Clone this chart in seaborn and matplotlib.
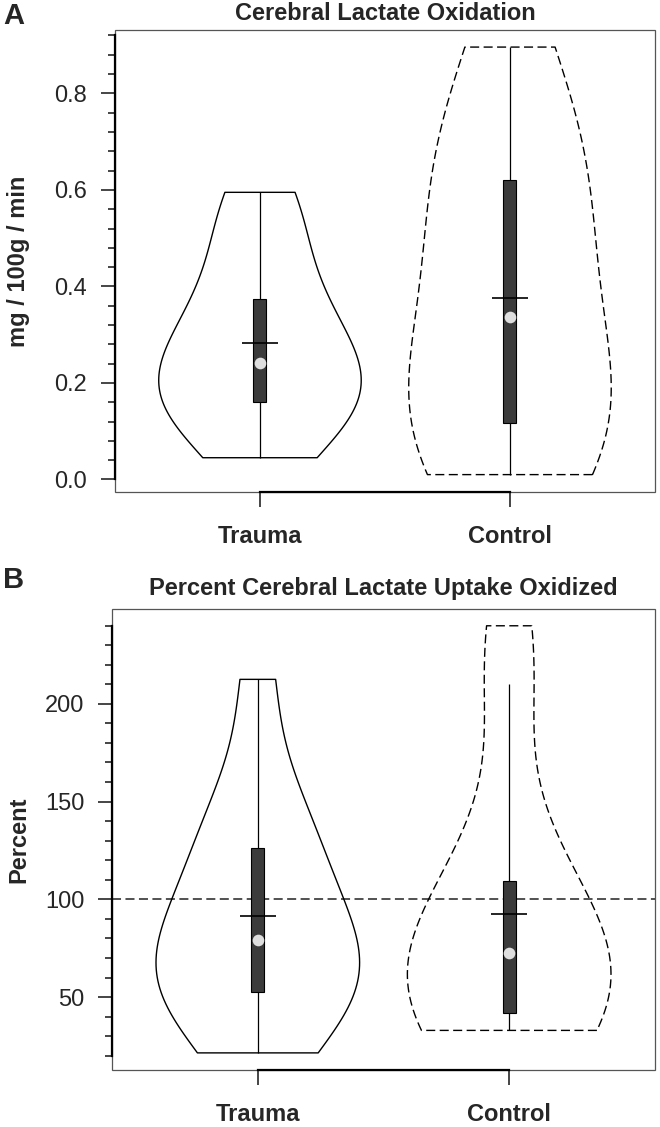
import numpy as np
import pandas as pd
import seaborn as sns
import matplotlib.pyplot as plt
from matplotlib.patches import Rectangle

# values (one row per subject)
groups = ["Trauma", "Control"]
oxidation_trauma = [0.045, 0.12, 0.153, 0.162, 0.19, 0.222, 0.26, 0.318, 0.353, 0.437, 0.54, 0.595]
oxidation_control = [0.010, 0.060, 0.100, 0.164, 0.250, 0.424, 0.500, 0.660, 0.696, 0.896]
percent_trauma = [21.5, 48, 50, 53.8, 62, 72, 86.8, 88, 123.4, 135, 145, 212.5]
percent_control = [33, 36, 39, 42.6, 55, 65, 79.8, 82, 105, 121.8, 209.9, 239.9]

titles = ["Cerebral Lactate Oxidation", "Percent Cerebral Lactate Uptake Oxidized"]
ylabels = ["mg / 100g / min", "Percent"]
a_major = [0.0, 0.2, 0.4, 0.6, 0.8]
a_minor = np.arange(0, 0.93, 0.04)
b_major = [50, 100, 150, 200]
b_minor = np.arange(20, 241, 10)

sns.set_style("white")
plt.rcParams["font.family"] = ["Liberation Sans", "DejaVu Sans"]
plt.rcParams["lines.scale_dashes"] = False
dash = (0, (6.5, 3.2))


def make_df(trauma, control):
    return pd.DataFrame({
        "group": ["Trauma"] * len(trauma) + ["Control"] * len(control),
        "value": list(trauma) + list(control),
    })


def draw_panel(ax, df, title, ylabel, major, minor, fmt, label_x, title_pad):
    # violins, one call each so the control outline can be dashed
    for grp, ls in zip(groups, ["-", dash]):
        sns.violinplot(data=df[df.group == grp], x="group", y="value", order=groups,
                       cut=0, inner=None, density_norm="width", width=0.81,
                       bw_adjust=1.06, fill=False, color="black", linewidth=1.0,
                       linestyle=ls, ax=ax)
    sns.boxplot(data=df, x="group", y="value", order=groups, width=0.052,
                color="#3b3b3b", linecolor="black", linewidth=0.8,
                showfliers=False, showcaps=False,
                medianprops={"linewidth": 0}, whiskerprops={"linewidth": 0.9},
                ax=ax)
    sns.pointplot(data=df, x="group", y="value", order=groups, estimator="mean",
                  errorbar=None, marker="_", markersize=26, markeredgewidth=1.2,
                  linestyle="none", color="black", ax=ax)
    sns.pointplot(data=df, x="group", y="value", order=groups, estimator="median",
                  errorbar=None, marker="o", markersize=8.4, markeredgewidth=0,
                  linestyle="none", color="#dedede", ax=ax)

    lo, hi = df.value.min(), df.value.max()
    pad = 0.04 * (hi - lo)
    ax.set_ylim(lo - pad, hi + pad)
    ax.set_xlim(-0.58, 1.58)

    ax.set_yticks(major)
    ax.set_yticklabels([fmt.format(v) for v in major])
    ax.set_yticks(minor, minor=True)
    ax.tick_params(axis="y", which="major", direction="out", length=10, width=1.2,
                   labelsize=17, pad=10, left=True)
    ax.tick_params(axis="y", which="minor", direction="out", length=5, width=1.2, left=True)
    ax.tick_params(axis="x", direction="out", length=11, width=1.2, labelsize=17,
                   pad=13, bottom=True)
    for lab in ax.get_xticklabels():
        lab.set_fontweight("bold")

    # R style: thin box plus heavier axis lines between the outer ticks
    for side in ["top", "right"]:
        ax.spines[side].set_visible(False)
    ax.spines["left"].set_bounds(minor[0], minor[-1])
    ax.spines["bottom"].set_bounds(0, 1)
    for side in ["left", "bottom"]:
        ax.spines[side].set_linewidth(1.6)
        ax.spines[side].set_color("black")
    ax.add_patch(Rectangle((0, 0), 1, 1, transform=ax.transAxes, fill=False,
                           lw=0.9, ec="#555555", clip_on=False, zorder=0))

    ax.set_xlabel("")
    ax.set_ylabel(ylabel, fontsize=17, fontweight="bold")
    ax.yaxis.set_label_coords(label_x, 0.5)
    ax.set_title(title, fontsize=17, fontweight="bold", pad=title_pad)


fig = plt.figure(figsize=(6.6, 11.27), dpi=100)
ax_a = fig.add_axes([0.1742, 0.5637, 0.8182, 0.4097])
ax_b = fig.add_axes([0.1697, 0.0506, 0.8227, 0.4093])

draw_panel(ax_a, make_df(oxidation_trauma, oxidation_control), titles[0], ylabels[0],
           a_major, a_minor, "{:.1f}", (30 - 115) / 540, 7)
ax_b.axhline(100, color="#333333", lw=1.2, linestyle=dash, zorder=1)
draw_panel(ax_b, make_df(percent_trauma, percent_control), titles[1], ylabels[1],
           b_major, b_minor, "{:.0f}", (30 - 112) / 543, 10)

fig.text(0.005, 0.998, "A", fontsize=21, fontweight="bold", ha="left", va="top")
fig.text(0.005, 1 - 566 / 1127, "B", fontsize=21, fontweight="bold", ha="left", va="top")

plt.savefig("out.png", dpi=100)
